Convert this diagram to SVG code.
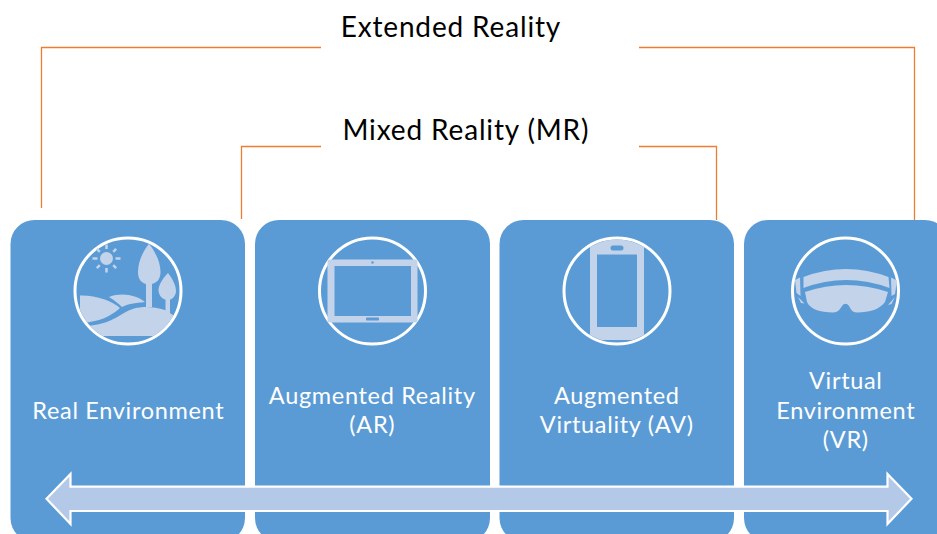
<svg xmlns="http://www.w3.org/2000/svg" width="937" height="534" viewBox="0 0 937 534">
<defs>
<clipPath id="c1"><circle cx="128" cy="291" r="51.500"/></clipPath>
<clipPath id="c3"><circle cx="617" cy="291" r="51.500"/></clipPath>
</defs>
<style>
.card{fill:#5b9bd5}
.ring{fill:none;stroke:#fff;stroke-width:3}
.ico{fill:#c3d3ea}
.cut{fill:#5b9bd5}
.lbl{font-family:"Lato","Liberation Sans",sans-serif;font-size:23.500px;letter-spacing:.68px;fill:#fff;text-anchor:middle}
.ttl{font-family:"Lato","Liberation Sans",sans-serif;font-size:28px;letter-spacing:.85px;fill:#000;text-anchor:middle}
.wire{fill:none;stroke:#ed7d31;stroke-width:1.300}
</style>
<rect width="937" height="534" fill="#fff"/>
<g id="connectors">
<path class="wire" d="M41.500 208V47.500H321"/>
<path class="wire" d="M639 47.500H914.500V220"/>
<path class="wire" d="M241.500 219V146.500H321"/>
<path class="wire" d="M639 146.500H716.500V220"/>
</g>
<g id="title-xr"><text class="ttl" x="450.900" y="36.500">Extended Reality</text></g>
<g id="title-mr"><text class="ttl" x="465.900" y="139.500">Mixed Reality (MR)</text></g>
<g id="real-environment">
<rect class="card" x="10.500" y="220" width="234.500" height="322" rx="24"/>
<circle class="ring" cx="128" cy="291" r="53"/>
<circle class="ico" cx="106.500" cy="258.500" r="6.500"/>
<path d="M106.500 244.500v4.500M106.500 268v4.500M92.500 258.500h5M115.500 258.500h5M96.800 248.800l3 3M113.200 265.200l3 3M116.200 248.800l-3 3M99.800 265.200l-3 3" stroke="#c3d3ea" stroke-width="2.500" fill="none"/>
<path class="ico" d="M149 244C155 251 160.500 262 160.500 272C160.500 280 156 283 152 284V307H146V284C142 283 138 280 138 272C138 262 143 251 149 244Z"/>
<path class="ico" d="M168 273C172 278 176 285 176 291C176 295 173 299 170 299.500V313H165.500V299.500C162 299 158.500 295 158.500 290C158.500 285 163 278 168 273Z"/>
<g clip-path="url(#c1)">
<path class="ico" d="M80 295.500C96 295 112 301 120 308C111 316 100 322 80 323Z"/>
<path class="ico" d="M109 297C122 292 136 295 145 302C135 303 128 304 122 307C118 303 114 300 109 297Z"/>
<path class="ico" d="M80 326C102 326 113 320 124 313C134 306 150 305 165 310L176 317V336H80Z"/>
</g>
<text class="lbl" x="128.300" y="419">Real Environment</text>
</g>
<g id="augmented-reality">
<rect class="card" x="255" y="220" width="235" height="322" rx="24"/>
<circle class="ring" cx="372.500" cy="291" r="53"/>
<path class="ico" fill-rule="evenodd" d="M330 259.500H415Q417.500 259.500 417.500 262V320Q417.500 322.500 415 322.500H330Q327.500 322.500 327.500 320V262Q327.500 259.500 330 259.500ZM334.500 266V316H411V266Z"/>
<circle class="cut" cx="372.500" cy="262.500" r="1.200"/>
<rect class="cut" x="366" y="317.500" width="13" height="3" rx="1"/>
<text class="lbl" x="372.300" y="404">Augmented Reality</text>
<text class="lbl" x="372.300" y="433">(AR)</text>
</g>
<g id="augmented-virtuality">
<rect class="card" x="499.500" y="220" width="234.500" height="322" rx="24"/>
<circle class="ring" cx="617" cy="291" r="53"/>
<path class="ico" fill-rule="evenodd" clip-path="url(#c3)" d="M590 235H644V340H590ZM597 254.500V327H637V254.500Z"/>
<rect class="cut" x="610.500" y="245.500" width="13" height="5" rx="2.500"/>
<text class="lbl" x="616.800" y="404">Augmented</text>
<text class="lbl" x="616.800" y="433">Virtuality (AV)</text>
</g>
<g id="virtual-environment">
<rect class="card" x="744" y="220" width="205" height="322" rx="24"/>
<circle class="ring" cx="845.500" cy="291" r="53"/>
<path class="ico" d="M803.500 277Q846 261 888.500 277L889.500 288Q846 272 803.500 288Z"/>
<path class="ico" d="M805 292Q846 278 888 292L885 302C880 309 870 312.500 857 312.500C852 312.500 851 309 849 306C847 303 844 303 842 306C840 309 838 312.500 833 312.500C820 312.500 810 309 807 302Z"/>
<path class="ico" d="M795 280L800 277.500L800.500 296L796.500 293Z"/>
<path class="ico" d="M891 277.500L897 280.500L895 294L891.500 296Z"/>
<path class="ico" d="M798 297L804.500 303.500L801 303Z"/>
<path class="ico" d="M895 297L888 305L891.500 304Z"/>
<text class="lbl" x="845.800" y="389">Virtual</text>
<text class="lbl" x="845.800" y="419">Environment</text>
<text class="lbl" x="845.800" y="448">(VR)</text>
</g>
<g id="spectrum-arrow">
<path d="M46.500 498.700L70.500 474V486.700H887.500V474L911.500 498.700L887.500 524V511H70.500V524Z" fill="#b4c9e7" stroke="#fff" stroke-width="2.200"/>
</g>
</svg>
